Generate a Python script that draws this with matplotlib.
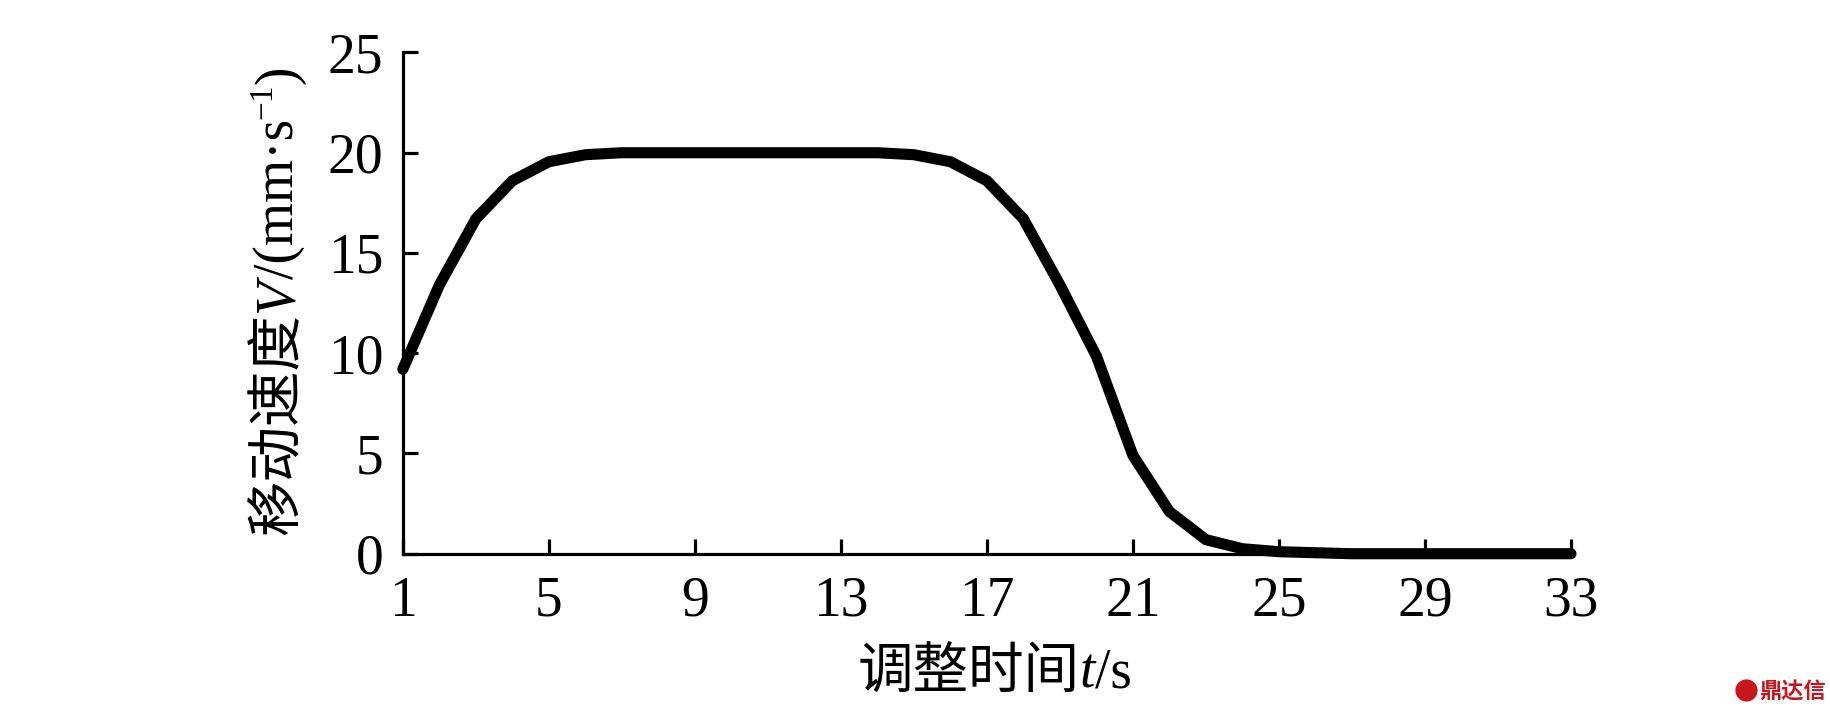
import matplotlib.pyplot as plt
import numpy as np
from matplotlib.lines import Line2D
from matplotlib.transforms import IdentityTransform

plt.rcParams['font.family'] = ['Liberation Serif', 'Noto Sans CJK SC', 'DejaVu Serif']

# data
t = np.arange(1, 34)
v = [9.2, 13.4, 16.7, 18.6, 19.55, 19.9, 20.0, 20.0, 20.0, 20.0, 20.0, 20.0, 20.0, 20.0,
     19.9, 19.55, 18.6, 16.7, 13.4, 9.85, 4.9, 2.1, 0.7, 0.25, 0.1, 0.05,
     0.0, 0.0, 0.0, 0.0, 0.0, 0.0, 0.0]
xticks = [1, 5, 9, 13, 17, 21, 25, 29, 33]
yticks = [0, 5, 10, 15, 20, 25]

FS = 40
fig = plt.figure(figsize=(18.31, 7.09), dpi=100)
ax = fig.add_axes([0.220, 0.219, 0.638, 0.707])

ax.plot(t, v, color='black', lw=8, solid_capstyle='round', solid_joinstyle='miter', clip_on=False, zorder=5)

ax.set_xlim(1, 33)
ax.set_ylim(0, 25)
ax.set_xticks(xticks)
ax.set_yticks(yticks)
for s in ['top', 'right']:
    ax.spines[s].set_visible(False)
for s in ['left', 'bottom']:
    ax.spines[s].set_linewidth(2.3)
ax.tick_params(axis='both', direction='in', length=11, width=2.3, labelsize=FS)
ax.tick_params(axis='y', pad=14)
ax.tick_params(axis='x', pad=16)

# axis labels built from pieces (CJK + italic symbol + units)
fig.canvas.draw()
r = fig.canvas.get_renderer()


def chain(pieces, x0, y0, vertical):
    txts = []
    for s, kw, rise in pieces:
        tt = fig.text(0, 0, s, transform=IdentityTransform(), ha='left', va='baseline',
                      rotation=90 if vertical else 0, rotation_mode='anchor', **kw)
        txts.append((tt, rise))
    lens = []
    for tt, _ in txts:
        bb = tt.get_window_extent(r)
        lens.append(bb.height if vertical else bb.width)
    pos = -sum(lens) / 2
    for (tt, rise), ln in zip(txts, lens):
        if vertical:
            tt.set_position((x0 - rise, y0 + pos))
        else:
            tt.set_position((x0 + pos, y0 + rise))
        pos += ln


chain([("调整时间", dict(fontsize=FS), 0),
       ("t", dict(fontsize=FS, style='italic'), 0),
       ("/s", dict(fontsize=FS), 0)], 995, 21, False)

chain([("移动速度", dict(fontsize=FS), 0),
       ("V", dict(fontsize=FS, style='italic'), 0),
       ("/(mm·s", dict(fontsize=FS), 0),
       ("−1", dict(fontsize=FS * 0.6), 22),
       (")", dict(fontsize=FS), 0)], 293, 409, True)

# watermark
fig.add_artist(Line2D([0.9535], [0.0265], marker='o', ms=15, mfc='#c8161d', mec='#c8161d',
                      transform=fig.transFigure))
fig.text(0.997, 0.008, "鼎达信", color='#c8161d', fontsize=16, weight='bold',
         family=['Noto Sans CJK SC'], ha='right', va='bottom')

fig.savefig('out.png', dpi=100)
